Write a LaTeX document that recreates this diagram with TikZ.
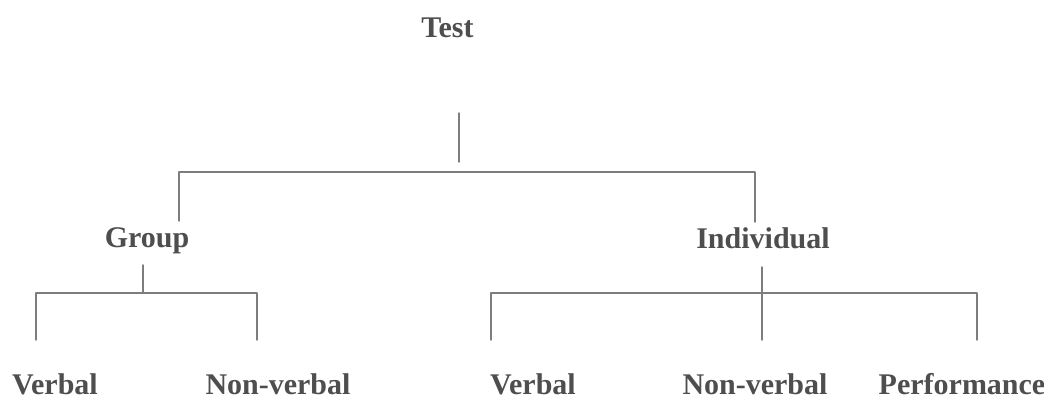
\documentclass[tikz,border=0pt]{standalone}
\usepackage{fontspec}
\setmainfont{Liberation Serif}
\definecolor{inkgrey}{RGB}{78,78,78}
\definecolor{linegrey}{RGB}{125,125,125}

\begin{document}
\begin{tikzpicture}[
    x=1pt,
    y=-1pt,
    line cap=round,
    line join=round,
    label/.style={
      anchor=base,
      inner sep=0pt,
      text=inkgrey,
      font=\fontsize{30}{36}\selectfont\bfseries
    },
    branch/.style={
      draw=linegrey,
      line width=1.4pt
    }
]
\useasboundingbox (0,0) rectangle (1044,399);

% Level 0: the root.
\node[label] (test) at (447.5,37) {Test};

% Level 1: the two kinds of test.
\node[label] (group) at (147,247) {Group};
\node[label] (individual) at (763,248) {Individual};

% Level 2: leaves of each kind.
\node[label] (gverbal) at (55,394) {Verbal};
\node[label] (gnonverbal) at (278,394) {Non-verbal};
\node[label] (iverbal) at (533,394) {Verbal};
\node[label] (inonverbal) at (755,394) {Non-verbal};
\node[label] (performance) at (962,394) {Performance};

% Root stem stops short of the bar, as in the scan.
\coordinate (teststem) at (459,113);
\coordinate (testfoot) at (459,162);
\draw[branch] (teststem) -- (testfoot);

\coordinate (topleft) at (179,172);
\coordinate (topright) at (755,172);
\coordinate (groupdrop) at (179,221);
\coordinate (indivdrop) at (755,222);
\draw[branch] (groupdrop) -- (topleft) -- (topright) -- (indivdrop);

% Group split.
\coordinate (groupstem) at (143,265);
\coordinate (groupjoin) at (143,293);
\draw[branch] (groupstem) -- (groupjoin);
\coordinate (gleft) at (36,293);
\coordinate (gright) at (257,293);
\coordinate (gleftfoot) at (36,340);
\coordinate (grightfoot) at (257,340);
\draw[branch] (gleftfoot) -- (gleft) -- (gright) -- (grightfoot);

% Individual split; the middle stem runs through the bar.
\coordinate (indivstem) at (762,267);
\coordinate (indivfoot) at (762,340);
\draw[branch] (indivstem) -- (indivfoot);
\coordinate (ileft) at (491,293);
\coordinate (iright) at (977,293);
\coordinate (ileftfoot) at (491,340);
\coordinate (irightfoot) at (977,340);
\draw[branch] (ileftfoot) -- (ileft) -- (iright) -- (irightfoot);

\end{tikzpicture}
\end{document}
